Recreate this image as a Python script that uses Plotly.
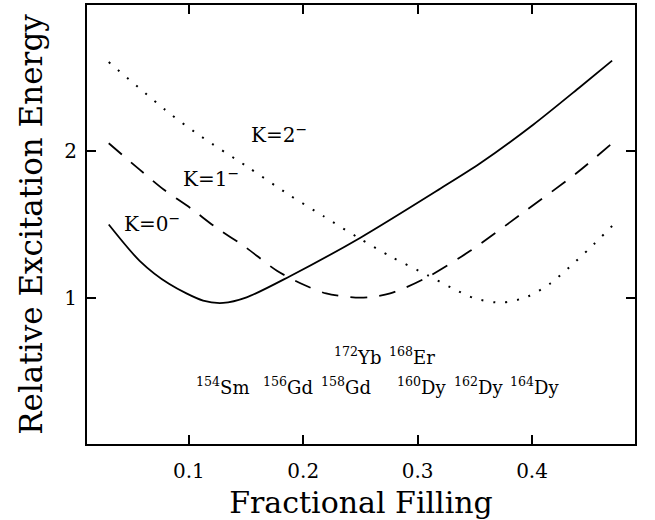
import plotly.graph_objects as go

# K=0- (solid)
x_k0 = [0.03, 0.057, 0.083, 0.1125, 0.130, 0.1505, 0.188, 0.25, 0.32, 0.355, 0.401, 0.442, 0.47]
y_k0 = [1.50, 1.252, 1.093, 0.980, 0.964, 1.002, 1.145, 1.41, 1.746, 1.92, 2.182, 2.44, 2.62]

# K=1- (dashed)
x_k1 = [0.03, 0.057, 0.078, 0.102, 0.124, 0.148, 0.177, 0.200, 0.220, 0.250, 0.276, 0.308, 0.346, 0.392, 0.439, 0.47]
y_k1 = [2.055, 1.875, 1.739, 1.609, 1.478, 1.354, 1.184, 1.09, 1.029, 1.00, 1.029, 1.138, 1.320, 1.580, 1.852, 2.055]

# K=2- (dotted)
x_k2 = [0.03, 0.083, 0.111, 0.1505, 0.188, 0.2175, 0.248, 0.277, 0.309, 0.330, 0.350, 0.3735, 0.396, 0.416, 0.433, 0.451, 0.47]
y_k2 = [2.61, 2.261, 2.10, 1.898, 1.701, 1.558, 1.41, 1.279, 1.152, 1.066, 0.995, 0.966, 1.007, 1.097, 1.211, 1.342, 1.49]

# curve labels
k_labels = ["K=0<sup>\u2212</sup>", "K=1<sup>\u2212</sup>", "K=2<sup>\u2212</sup>"]
k_label_x = [0.068, 0.1197, 0.1786]
k_label_y = [1.49, 1.80, 2.097]

# nuclei labels
nuc_mass = ["154", "156", "158", "160", "162", "164", "172", "168"]
nuc_sym = ["Sm", "Gd", "Gd", "Dy", "Dy", "Dy", "Yb", "Er"]
nuc_x = [0.1294, 0.1871, 0.2378, 0.3033, 0.3531, 0.4020, 0.2474, 0.2955]
nuc_y = [0.374, 0.374, 0.374, 0.374, 0.374, 0.374, 0.583, 0.583]

x_ticks = [0.1, 0.2, 0.3, 0.4]
x_tick_text = ["0.1", "0.2", "0.3", "0.4"]
y_ticks = [1, 2]
y_tick_text = ["1", "2"]

FONT = "DejaVu Serif"

fig = go.Figure()
fig.add_trace(go.Scatter(x=x_k0, y=y_k0, mode="lines", line=dict(color="black", width=1.8, shape="spline", smoothing=0.8), showlegend=False))
fig.add_trace(go.Scatter(x=x_k1, y=y_k1, mode="lines", line=dict(color="black", width=1.8, dash="17px,12px", shape="spline", smoothing=0.8), showlegend=False))
fig.add_trace(go.Scatter(x=x_k2, y=y_k2, mode="lines", line=dict(color="black", width=2, dash="2px,10px", shape="spline", smoothing=0.8), showlegend=False))

annotations = []
for t, x, y in zip(k_labels, k_label_x, k_label_y):
    annotations.append(dict(x=x, y=y, xref="x", yref="y", text=t, showarrow=False,
                            font=dict(family=FONT, size=20, color="black"), yshift=3))
for m, s, x, y in zip(nuc_mass, nuc_sym, nuc_x, nuc_y):
    annotations.append(dict(x=x, y=y, xref="x", yref="y", text="<sup>%s</sup>%s" % (m, s), showarrow=False,
                            font=dict(family=FONT, size=18, color="black"), yshift=3))

fig.update_layout(
    width=655, height=520,
    margin=dict(l=87, r=20, t=3, b=76),
    paper_bgcolor="white", plot_bgcolor="white",
    font=dict(family=FONT, color="black"),
    annotations=annotations,
)
fig.update_xaxes(
    range=[0.011, 0.49], tickvals=x_ticks, ticktext=x_tick_text,
    showline=True, linecolor="black", linewidth=2, mirror="ticks",
    ticks="inside", ticklen=9, tickwidth=2, tickcolor="black",
    showgrid=False, zeroline=False, ticklabelstandoff=8,
    tickfont=dict(family=FONT, size=20, color="black"),
    title=dict(text="Fractional Filling", font=dict(family=FONT, size=30, color="black"), standoff=13),
)
fig.update_yaxes(
    range=[0, 3], tickvals=y_ticks, ticktext=y_tick_text,
    showline=True, linecolor="black", linewidth=2, mirror="ticks",
    ticks="inside", ticklen=9, tickwidth=2, tickcolor="black",
    showgrid=False, zeroline=False, ticklabelstandoff=4,
    tickfont=dict(family=FONT, size=20, color="black"),
    title=dict(text="Relative Excitation Energy", font=dict(family=FONT, size=31, color="black"), standoff=12),
)

fig.write_html("out.html")
